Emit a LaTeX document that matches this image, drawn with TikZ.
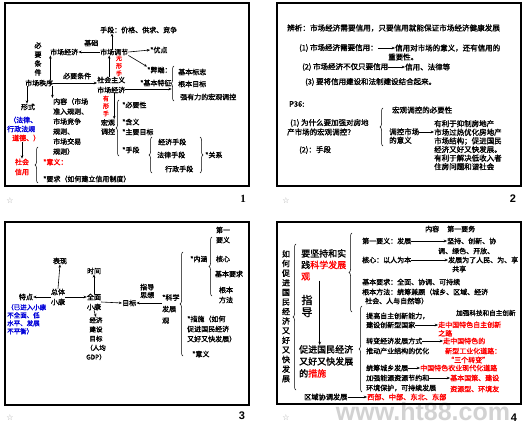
\documentclass[tikz,border=0pt]{standalone}
\usepackage{fontspec}
\setmainfont{Noto Sans CJK SC}[AutoFakeBold=1.6]
\newfontfamily\symf{DejaVu Sans}
\newfontfamily\numf{Liberation Sans}
\newfontfamily\serf{Liberation Serif}
\usetikzlibrary{arrows.meta,decorations.pathreplacing}
\newcommand\fz[2]{\fontsize{#1}{#2}\selectfont\bfseries}
\tikzset{
 tx/.style={inner sep=0pt, anchor=west, align=left, font=\fz{7}{9}},
 rd/.style={text=red},
 bl/.style={text=blue!85!black},
 ar/.style={-{Stealth[length=3.2pt,width=2.6pt]}, line width=0.6pt},
 br/.style={decorate, decoration={brace, amplitude=3pt}, line width=0.5pt},
 frame/.style={line width=1.2pt},
 star/.style={inner sep=0pt, text=gray!70, font=\symf\fontsize{8}{8}\selectfont},
 pnum/.style={inner sep=0pt, font=\numf\bfseries\fontsize{11}{11}\selectfont},
}
\begin{document}
\begin{tikzpicture}[x=1pt,y=-1pt]
\useasboundingbox[fill=white] (0,0) rectangle (525,425);
% watermark
\node[inner sep=0pt, text=gray!35, font=\numf\bfseries\fontsize{25}{25}\selectfont] (wm) at (423,412) {www.ht88.com};

% ================= Slide 1 =================
\draw[frame] (5,3) rectangle (249,186);
\node[tx] (sd) at (100,30) {手段：价格、供求、竞争};
\node[tx] (tj) at (100,52) {市场调节};
\node[tx] (jj) at (50,52) {市场经济};
\node[tx] (jc) at (84,43) {基础};
\draw[ar] (tj.west) -- (jj.east);
\draw[ar] ([xshift=12pt]tj.north west) -- ([xshift=12pt]tj.north west |- sd.south);
\node[tx] (yd) at (150,50) {*优点};
\draw[ar] (tj.east) -- (yd.west);
\node[tx] (bd) at (147,70) {*弊端：};
\draw[ar] (tj.south east) -- (bd.north west);
\node[tx, anchor=center, align=center, font=\fz{7}{9}] (by1) at (38,59) {必\\要\\条\\件};
\node[tx] (zx) at (25,83) {市场秩序};
\draw[ar] ([xshift=-3pt]zx.north east) -- ([xshift=-3pt]zx.north east |- jj.south);
\node[tx] (by2) at (63,76) {必要条件};
\node[tx, font=\fz{7}{10}] (sz) at (97,85) {社会主义\\市场经济};
\draw[ar] (zx.east) -- (zx.east -| sz.west);
\node[tx, rd, anchor=center, align=center, font=\fz{6}{7.5}] (wx) at (119,66) {无\\形\\手};
\draw[ar] ([xshift=-2pt]sz.north) -- ([xshift=-2pt]sz.north |- tj.south);
\node[tx] (jt) at (140,83) {*基本特征};
\draw[ar] ([yshift=-4pt]sz.east) -- ([yshift=-4pt]sz.east -| jt.east);
\draw[br] (174,101) -- (174,66);
\node[tx] (t1) at (178,72) {基本标志};
\node[tx] (t2) at (178,84) {根本目标};
\node[tx] (t3) at (180,97) {强有力的宏观调控};
\node[tx, rd, anchor=center, align=center, font=\fz{6}{7.5}] (yx) at (106,106) {有\\形\\手};
\node[tx, anchor=center, align=center, font=\fz{7}{9}] (hg) at (108,127) {宏观\\调控};
\draw[ar] ([xshift=3pt]sz.south) -- ([xshift=3pt]sz.south |- hg.north);
\draw[br] (119,156) -- (119,100);
\node[tx] (h1) at (122,105) {*必要性};
\node[tx] (h2) at (122,122) {*含义};
\node[tx] (h3) at (122,132) {*主要目标};
\node[tx] (h4) at (122,150) {*手段};
\draw[br] (152,173) -- (152,137);
\node[tx] (m1) at (158,142) {经济手段};
\node[tx] (m2) at (157,155) {法律手段};
\node[tx] (m3) at (165,169) {行政手段};
\draw[br] (200,137) -- (200,173);
\node[tx] (gx) at (205,155) {*关系};
\node[tx, anchor=center] (xs) at (28,107) {形式};
\draw[ar] ([xshift=2pt]zx.south west) -- ([xshift=2pt]zx.south west |- xs.north);
\node[tx, bl] (fl) at (9,120) {（法律、};
\node[tx, bl] (hy) at (7,129) {行政法规};
\node[tx, rd] (dd) at (12,138) {道德、）};
\node[tx, rd, anchor=center, align=center, font=\fz{7}{10}] (xy) at (22,167) {社会\\信用};
\draw[ar] (dd.south -| xy.north) -- (xy.north);
\draw[br] (38,183) -- (38,147);
\node[tx, rd] (yi) at (43,162) {*意义：};
\node[tx] (yq) at (43,179) {*要求（如何建立信用制度）};
\node[tx, anchor=north west, font=\fz{7}{10}] (nr) at (53,98) {内容（市场\\准入规则、\\市场竞争\\规则、\\市场交易\\规则）};
\draw[ar] ([xshift=-1pt]zx.south east) -- ([xshift=-1pt]zx.south east |- nr.north);
\node[star] (s1) at (10,201) {☆};
\node[inner sep=0pt, font=\serf\bfseries\fontsize{11}{11}\selectfont] (p1) at (243,199) {1};

% ================= Slide 2 =================
\draw[frame] (277,3) rectangle (521,186);
\node[tx, font=\fz{7.6}{9}] (b0) at (287,28) {辨析：市场经济需要信用，只要信用就能保证市场经济健康发展};
\node[tx, font=\fz{7.5}{9}] (b1) at (299,48) {(1) 市场经济需要信用：};
\node[tx, font=\fz{7.5}{9}] (b1r) at (395,48) {信用对市场的意义，还有信用的};
\draw[ar] (b1.east) -- (b1r.west);
\node[tx, font=\fz{7.5}{9}] (b1s) at (388,57) {重要性。};
\node[tx, font=\fz{7.5}{9}] (b2) at (302,67) {(2) 市场经济不仅只要信用};
\node[tx, font=\fz{7.5}{9}] (b2r) at (405,67) {信用、法律等};
\draw[ar] (b2.east) -- (b2r.west);
\node[tx, font=\fz{7.5}{9}] (b3) at (305,82) {(3) 要将信用建设和法制建设结合起来。};
\node[tx, font=\fz{7.5}{9}] (p36) at (289,104) {P36:};
\node[tx, font=\fz{7.5}{9}] (q1) at (290,123) {(1) 为什么要加强对房地};
\node[tx, font=\fz{7.5}{9}] (q1b) at (287,132) {产市场的宏观调控？};
\node[tx, font=\fz{7.5}{9}] (q2) at (299,150) {(2)：手段};
\draw[br] (383,146) -- (383,108);
\node[tx, font=\fz{7.5}{9}] (r1) at (392,110) {宏观调控的必要性};
\node[tx, font=\fz{7.5}{8.5}] (r2) at (389,136) {调控市场\\的意义};
\node[tx, anchor=north west, font=\fz{7.5}{8.6}] (r3) at (434,120) {有利于抑制房地产\\市场过热优化房地产\\市场结构；促进国民\\经济又好又快发展。\\有利于解决低收入者\\住房问题和谐社会};
\draw[ar] ([yshift=4pt]r2.east) -- ([yshift=4pt]r2.east -| r3.west);
\node[star] (s2) at (286,201) {☆};
\node[pnum] (p2) at (513,199) {2};

% ================= Slide 3 =================
\draw[frame] (5,222) rectangle (249,405);
\node[tx, anchor=center] (bx) at (60,261) {表现};
\node[tx, anchor=center, align=center, font=\fz{7}{10}] (zt) at (58,297) {总体\\小康};
\draw[ar] (zt.north) -- (bx.south);
\node[tx, anchor=center] (td) at (26,297) {特点};
\draw[ar] (zt.west) -- (td.east);
\node[tx, bl, anchor=north west, font=\fz{6.5}{8}] (tdb) at (7,304) {（已进入小康\\不全面、低\\水平、发展\\不平衡）};
\node[tx, anchor=center] (sj) at (94,271) {时间};
\node[tx, anchor=center, align=center, font=\fz{7}{10}] (qm) at (94,302) {全面\\小康};
\draw[ar] (qm.north) -- (sj.south);
\draw[ar] (zt.east) -- (zt.east -| qm.west);
\node[tx] (mb) at (122,303) {目标};
\draw[ar] (qm.east) -- (mb.west);
\node[tx, anchor=north, align=center, font=\fz{6.5}{9.2}] (jjmb) at (96,317) {经济\\建设\\目标\\（人均\\GDP）};
\draw[ar] (qm.south) -- (jjmb.north);
\node[tx, font=\fz{7}{8}] (zd) at (140,291) {指导\\思想};
\node[tx, font=\fz{7}{11.5}] (kx) at (162,309) {*科学\\发展\\观};
\draw[ar] (kx.west |- mb.east) -- (mb.east);
\draw[br] (183,356) -- (183,252);
\node[tx] (nh) at (190,259) {*内涵};
\node[tx, font=\fz{7}{10}] (cs) at (187,329) {*措施（如何\\促进国民经济\\又好又快发展）};
\node[tx] (yy) at (192,354) {*意义};
\draw[br] (212,296) -- (212,237);
\node[tx, anchor=center, align=center, font=\fz{7}{10}] (dy) at (223,235) {第一\\要义};
\node[tx, anchor=center] (hx) at (223,259) {核心};
\node[tx, anchor=center] (jbyq) at (229,274) {基本要求};
\node[tx, anchor=center, align=center, font=\fz{7}{10}] (gbff) at (226,295) {根本\\方法};
\node[star] (s3) at (10,418) {☆};
\node[pnum] (p3) at (242,416) {3};

% ================= Slide 4 =================
\draw[frame] (277,222) rectangle (521,404);
\node[tx, anchor=north, align=center, font=\fz{8}{9.6}] (tt) at (286,250) {如\\何\\促\\进\\国\\民\\经\\济\\又\\好\\又\\快\\发\\展};
\draw[br] (296,390) -- (296,244);
\node[tx, anchor=north west, font=\fz{9}{11.5}] (jc4) at (301,249) {要坚持和实\\践\textcolor{red}{科学发展}\\\textcolor{red}{观}};
\node[tx, anchor=center, align=center, font=\fz{11}{12}] (zd4) at (307,306) {指\\导};
\node[tx, anchor=north west, font=\fz{9}{12}] (cj) at (299,345) {促进国民经济\\又好又快发展\\的\textcolor{red}{措施}};
\draw[ar] ([xshift=7pt]zd4.north east |- jc4.south) -- ([xshift=7pt]zd4.north east |- cj.north);
\node[tx, font=\fz{7.2}{9}] (qy) at (304,397) {区域协调发展};
\node[tx, rd, font=\fz{7.2}{9}] (xb) at (367,397) {西部、中部、东北、东部};
\draw[ar] (qy.east) -- (xb.west);
\draw[br] (352,312) -- (352,233);
\node[tx] (nr0) at (425,229) {内容};
\node[tx] (dywu) at (447,229) {第一要务};
\node[tx] (k1) at (362,241) {第一要义：发展};
\node[tx] (k1r) at (447,241) {坚持、创新、协};
\draw[ar] (k1.east) -- (k1r.west);
\node[tx] (k1s) at (438,251) {调、绿色、开放、};
\node[tx] (k2) at (362,260) {核心：以人为本};
\node[tx] (k2r) at (448,260) {发展为了人民、为、享};
\draw[ar] (k2.east) -- (k2r.west);
\node[tx] (k2s) at (452,269) {共享};
\node[tx] (k3) at (362,282) {基本要求：全面、协调、可持续};
\node[tx] (k4) at (362,292) {根本方法：统筹兼顾（城乡、区域、经济};
\node[tx] (k5) at (365,301) {社会、人与自然等）};
\draw[br] (362,392) -- (362,306);
\node[tx] (c1) at (366,316) {提高自主创新能力，};
\node[tx, font=\fz{6.6}{8}] (c1x) at (456,313) {加强科技和自主创新};
\node[tx] (c1b) at (366,325) {建设创新型国家};
\node[tx, rd, font=\fz{7}{8.5}] (c1r) at (438,329) {走中国特色自主创新\\之路};
\draw[ar] (c1b.east) -- (c1b.east -| c1r.west);
\node[tx] (c2) at (366,341) {转变经济发展方式};
\node[tx, rd] (c2r) at (443,341) {走中国特色的};
\draw[ar] (c2.east) -- (c2r.west);
\node[tx] (c2b) at (366,351) {推动产业结构的优化};
\node[tx, rd] (c2s) at (445,351) {新型工业化道路：};
\node[tx, rd] (c2t) at (447,360) {“三个转变”};
\node[tx] (c3) at (366,368) {统筹城乡发展};
\node[tx, rd] (c3r) at (420,368) {中国特色农业现代化道路};
\draw[ar] (c3.east) -- (c3r.west);
\node[tx] (c4) at (366,378) {加强能源资源节约和};
\node[tx, rd] (c4r) at (450,378) {基本国策、建设};
\draw[ar] (c4.east) -- (c4r.west);
\node[tx] (c4b) at (366,388) {环境保护，可持续发展};
\node[tx, rd] (c4s) at (450,389) {资源型、环境友};
\node[star] (s4) at (286,418) {☆};
\node[pnum] (p4) at (514,418) {4};
\end{tikzpicture}
\end{document}
